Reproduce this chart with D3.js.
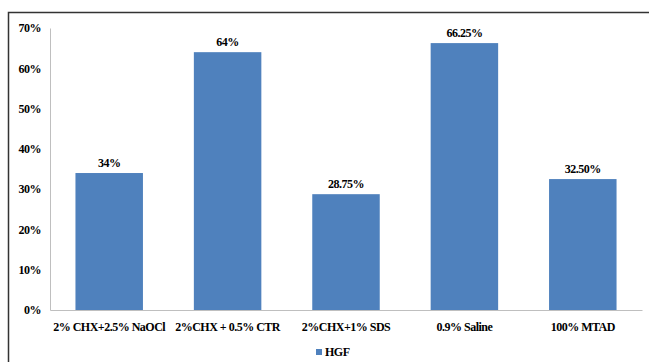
<!DOCTYPE html>
<html>
<head>
<meta charset="utf-8">
<script src="https://cdn.jsdelivr.net/npm/d3@7"></script>
<style>
  body { margin: 0; background: #fff; }
  svg { display: block; }
</style>
</head>
<body>
<svg id="chart" width="649" height="362"></svg>
<script>
// data
const categories = ["2% CHX+2.5% NaOCl", "2%CHX + 0.5% CTR", "2%CHX+1% SDS", "0.9% Saline", "100% MTAD"];
const hgfValues = [34, 64, 28.75, 66.25, 32.5];
const valueLabels = ["34%", "64%", "28.75%", "66.25%", "32.50%"];
const yTicks = [0, 10, 20, 30, 40, 50, 60, 70];
const seriesName = "HGF";

const width = 649, height = 362;
const margin = { top: 28, right: 7, bottom: 52, left: 50 };
const innerW = width - margin.left - margin.right;
const innerH = height - margin.top - margin.bottom;
const FONT = "'Times New Roman', 'Liberation Serif', Times, serif";

const svg = d3.select("#chart");

// outer frame (left and top edges only visible)
svg.append("path")
  .attr("d", `M8.5,${height} V12.5 H${width}`)
  .attr("fill", "none")
  .attr("stroke", "#333")
  .attr("stroke-width", 1.5);

const x = d3.scaleBand()
  .domain(categories)
  .range([0, innerW])
  .paddingInner(0.43)
  .paddingOuter(0.215);

const y = d3.scaleLinear()
  .domain([0, 70])
  .range([innerH, 0]);

const g = svg.append("g")
  .attr("transform", `translate(${margin.left},${margin.top})`);

const styleText = sel => sel
  .style("font-family", FONT)
  .style("font-weight", "700")
  .style("font-size", "12px")
  .style("letter-spacing", "-0.5px")
  .attr("fill", "#000");

// bars
g.selectAll(".bar")
  .data(hgfValues)
  .enter()
  .append("rect")
  .attr("class", "bar")
  .attr("x", (d, i) => x(categories[i]))
  .attr("y", d => y(d))
  .attr("width", x.bandwidth())
  .attr("height", d => innerH - y(d))
  .attr("fill", "#4f81bd");

// value labels
g.selectAll(".val")
  .data(hgfValues)
  .enter()
  .append("text")
  .attr("class", "val")
  .attr("x", (d, i) => x(categories[i]) + x.bandwidth() / 2)
  .attr("y", d => y(d) - 6)
  .attr("text-anchor", "middle")
  .text((d, i) => valueLabels[i])
  .call(styleText);

// y axis
const yAxis = g.append("g")
  .call(d3.axisLeft(y).tickValues(yTicks).tickFormat(d => d + "%").tickSize(0).tickPadding(9));
yAxis.select(".domain").attr("stroke", "#bfbfbf");
yAxis.selectAll("text").call(styleText);

// x axis
const xAxis = g.append("g")
  .attr("transform", `translate(0,${innerH})`)
  .call(d3.axisBottom(x).tickSize(0).tickPadding(12));
xAxis.select(".domain").attr("stroke", "#bfbfbf");
xAxis.selectAll("text").call(styleText);

// legend
const legend = svg.append("g").attr("transform", "translate(316,349)");
legend.append("rect")
  .attr("width", 6)
  .attr("height", 6)
  .attr("fill", "#4f81bd");
legend.append("text")
  .attr("x", 9)
  .attr("y", 7)
  .text(seriesName)
  .call(styleText);
</script>
</body>
</html>
